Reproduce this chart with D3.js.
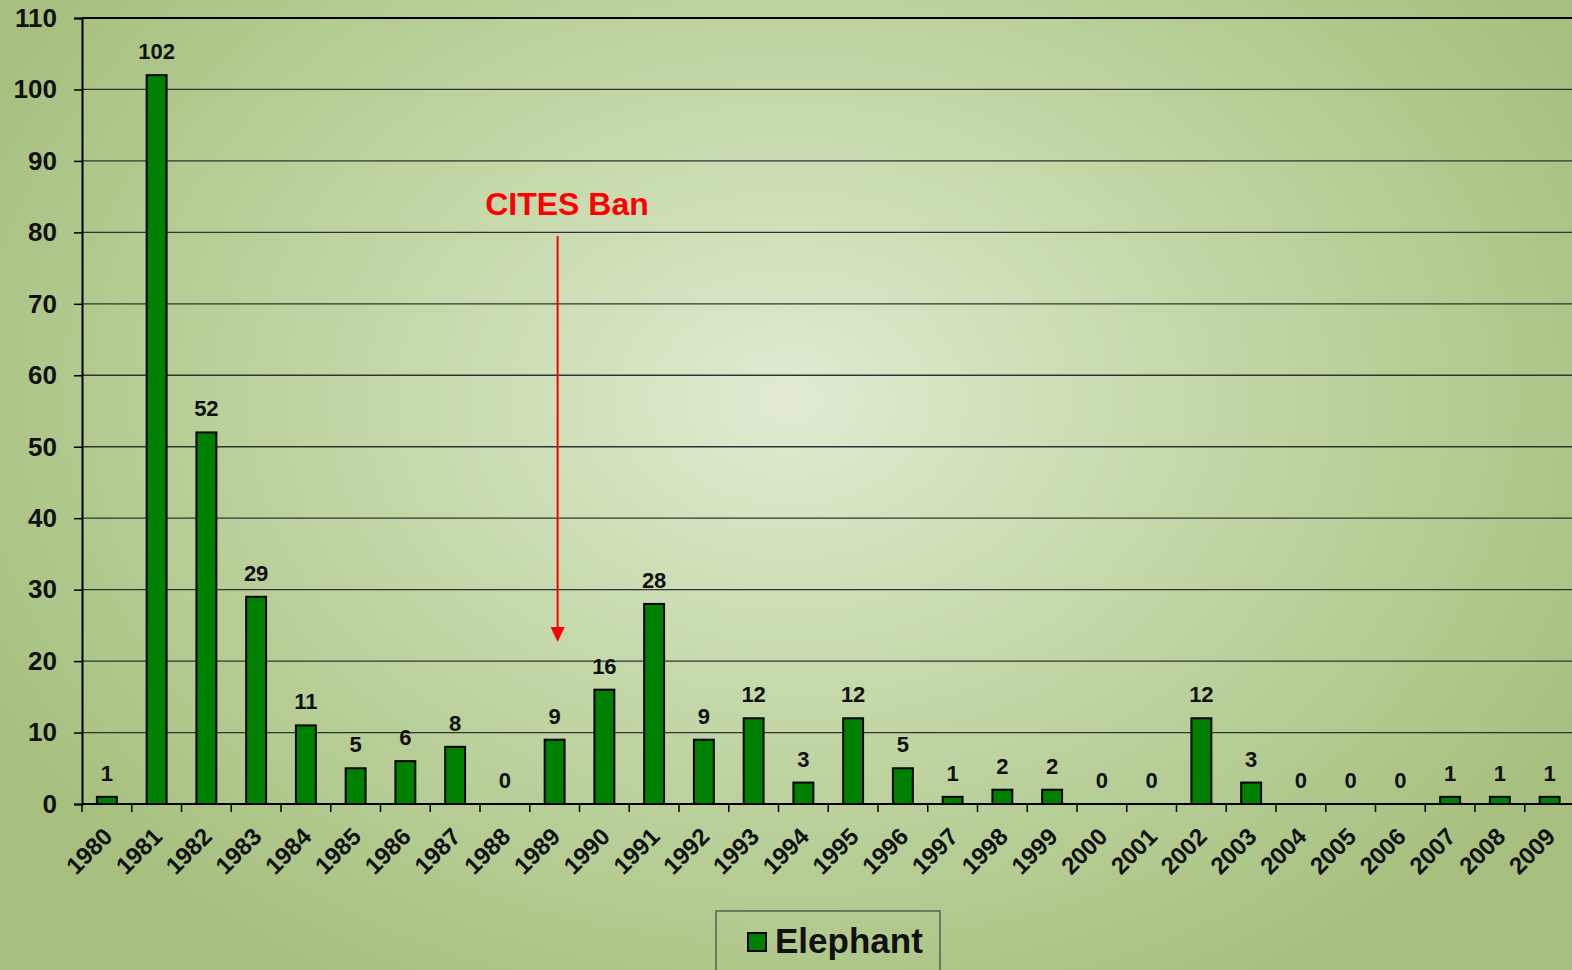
<!DOCTYPE html>
<html><head><meta charset="utf-8">
<script src="https://cdn.jsdelivr.net/npm/d3@7"></script>
<style>html,body{margin:0;padding:0;overflow:hidden;background:#a9c283}svg{display:block}text{font-family:Arial,"Liberation Sans",sans-serif;font-weight:bold}</style>
</head><body>
<script>
const years = ["1980","1981","1982","1983","1984","1985","1986","1987","1988","1989","1990","1991","1992","1993","1994","1995","1996","1997","1998","1999","2000","2001","2002","2003","2004","2005","2006","2007","2008","2009"];
const elephant = [1,102,52,29,11,5,6,8,0,9,16,28,9,12,3,12,5,1,2,2,0,0,12,3,0,0,0,1,1,1];
const yTicks = [0,10,20,30,40,50,60,70,80,90,100,110];
const seriesName = "Elephant";
const annotation = "CITES Ban";
const annotationYear = "1989";

(function(){
const W = 1572, H = 970;
const svg = d3.select("body").append("svg").attr("width", W).attr("height", H);
const defs = svg.append("defs");
const g = defs.append("radialGradient").attr("id","bg").attr("gradientUnits","userSpaceOnUse")
  .attr("cx",790).attr("cy",400).attr("r",900).attr("gradientTransform","translate(790,400) scale(1,0.75) translate(-790,-400)");
g.append("stop").attr("offset","0").attr("stop-color","#e0ebd1");
g.append("stop").attr("offset","0.45").attr("stop-color","#c4d8a8");
g.append("stop").attr("offset","1").attr("stop-color","#a7c07f");
svg.append("rect").attr("width",W).attr("height",H).attr("fill","url(#bg)");

const mL = 82, mR = 1574.5, mT = 18, mB = 804;
const x = d3.scaleBand().domain(years).range([mL, mR]).paddingInner(0.6).paddingOuter(0.3);
const xb = d3.scaleBand().domain(years).range([mL, mR]);
const y = d3.scaleLinear().domain([0,110]).range([mB, mT]);

svg.append("g").selectAll("line").data(yTicks.filter(d=>d>0 && d<110)).join("line")
  .attr("x1",mL).attr("x2",W).attr("y1",d=>y(d)).attr("y2",d=>y(d))
  .attr("stroke","#333").attr("stroke-width",1.3);
svg.append("line").attr("x1",mL).attr("x2",W).attr("y1",y(110)).attr("y2",y(110)).attr("stroke","#000").attr("stroke-width",2);

const ya = svg.append("g").attr("transform",`translate(${mL},0)`)
  .call(d3.axisLeft(y).tickValues(yTicks).tickSize(8).tickPadding(17));
ya.select(".domain").attr("stroke","#000").attr("stroke-width",2);
ya.selectAll(".tick line").attr("stroke","#000").attr("stroke-width",1.5);
ya.selectAll(".tick text").attr("font-size",26).attr("fill","#111").attr("font-family","Arial, Liberation Sans, sans-serif").attr("font-weight","bold");

svg.append("line").attr("x1",mL).attr("x2",W).attr("y1",mB).attr("y2",mB).attr("stroke","#000").attr("stroke-width",2);
svg.append("g").selectAll("line").data(years).join("line")
  .attr("x1",d=>xb(d)).attr("x2",d=>xb(d)).attr("y1",mB).attr("y2",mB+8)
  .attr("stroke","#000").attr("stroke-width",1.5);
svg.append("g").selectAll("text").data(years).join("text")
  .attr("transform",d=>`translate(${xb(d)+xb.bandwidth()/2+1},${mB+28}) rotate(-45)`)
  .attr("text-anchor","end").attr("dominant-baseline","central").attr("font-size",24).attr("fill","#111")
  .text(d=>d);

svg.append("g").selectAll("rect").data(years).join("rect")
  .attr("x",d=>x(d)).attr("width",x.bandwidth())
  .attr("y",(d,i)=>y(elephant[i])).attr("height",(d,i)=>mB-y(elephant[i]))
  .attr("fill","#008000").attr("stroke","#000").attr("stroke-width",2);
svg.append("g").selectAll("text").data(years).join("text")
  .attr("x",d=>x(d)+x.bandwidth()/2).attr("y",(d,i)=>y(elephant[i])-16)
  .attr("text-anchor","middle").attr("font-size",22).attr("fill","#111")
  .text((d,i)=>elephant[i]);

const ax = x(annotationYear)+x.bandwidth()/2 + 3;
svg.append("text").attr("x",567).attr("y",215).attr("text-anchor","middle")
  .attr("font-size",32).attr("fill","#ff0000").text(annotation);
svg.append("line").attr("x1",ax).attr("x2",ax).attr("y1",236).attr("y2",630)
  .attr("stroke","#ff0000").attr("stroke-width",2);
svg.append("path").attr("d",`M${ax-7},627 L${ax+7},627 L${ax},642 Z`).attr("fill","#ff0000");

svg.append("rect").attr("x",716).attr("y",911).attr("width",224).attr("height",70)
  .attr("fill","none").attr("stroke","#444").attr("stroke-width",1.2);
svg.append("rect").attr("x",748).attr("y",933).attr("width",18).attr("height",18)
  .attr("fill","#008000").attr("stroke","#000").attr("stroke-width",2);
svg.append("text").attr("x",775).attr("y",953).attr("font-size",35).attr("fill","#111").text(seriesName);
})();
</script>
</body></html>
